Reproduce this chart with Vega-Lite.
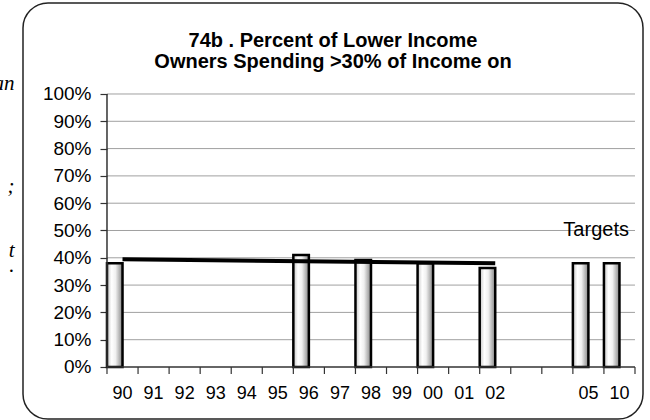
{
  "$schema": "https://vega.github.io/schema/vega-lite/v6.json",
  "width": 620,
  "height": 416,
  "autosize": {"type": "none"},
  "padding": {"left": 23, "top": 3, "right": 7, "bottom": 1},
  "background": "white",
  "config": {
    "view": {"stroke": "#222222", "strokeWidth": 1.5, "cornerRadius": 25},
    "font": "Liberation Sans"
  },
  "title": {
    "text": ["74b . Percent of Lower Income", "Owners Spending >30% of Income on"],
    "font": "Liberation Sans",
    "fontSize": 20,
    "fontWeight": "bold",
    "color": "black",
    "anchor": "middle",
    "frame": "group",
    "baseline": "top",
    "lineHeight": 21,
    "offset": -69
  },
  "datasets": {
    "bars": [
      {"year": "90", "pct": 38.0, "s": "a"},
      {"year": "96", "pct": 41.0, "s": "a"},
      {"year": "98", "pct": 39.2, "s": "a"},
      {"year": "00", "pct": 38.0, "s": "a"},
      {"year": "02", "pct": 36.3, "s": "a"},
      {"year": "05", "pct": 38.0, "s": "a"},
      {"year": "10", "pct": 38.0, "s": "a"}
    ],
    "trend": [
      {"year": "90", "pct": 39.45},
      {"year": "02", "pct": 38.0}
    ],
    "cats": [
      {"year": "90", "label": "90"}, {"year": "91", "label": "91"}, {"year": "92", "label": "92"},
      {"year": "93", "label": "93"}, {"year": "94", "label": "94"}, {"year": "95", "label": "95"},
      {"year": "96", "label": "96"}, {"year": "97", "label": "97"}, {"year": "98", "label": "98"},
      {"year": "99", "label": "99"}, {"year": "00", "label": "00"}, {"year": "01", "label": "01"},
      {"year": "02", "label": "02"}, {"year": "b1", "label": ""}, {"year": "b2", "label": ""},
      {"year": "05", "label": "05"}, {"year": "10", "label": "10"}
    ],
    "grid": [
      {"v": 10, "from": "90", "to": "10"},
      {"v": 20, "from": "90", "to": "10"},
      {"v": 30, "from": "90", "to": "10"},
      {"v": 40, "from": "90", "to": "10"},
      {"v": 50, "from": "90", "to": "10"},
      {"v": 60, "from": "90", "to": "10"},
      {"v": 70, "from": "90", "to": "10"},
      {"v": 80, "from": "90", "to": "10"},
      {"v": 90, "from": "90", "to": "10"},
      {"v": 100, "from": "90", "to": "10"}
    ],
    "base": [
      {"v": 0, "top": 100, "from": "90", "to": "10"}
    ],
    "notes": [
      {"label": "Targets", "year": "05", "pct": 50}
    ]
  },
  "resolve": {"axis": {"y": "independent"}},
  "layer": [
    {
      "data": {"name": "grid"},
      "mark": {"type": "rule", "color": "#a0a0a0", "strokeWidth": 1},
      "encoding": {
        "x": {"field": "from", "type": "nominal", "bandPosition": 0,
              "scale": {"type": "band", "domain": ["p1","p2","90","91","92","93","94","95","96","97","98","99","00","01","02","b1","b2","05","10"], "paddingInner": 0, "paddingOuter": 0.481, "align": 0.732},
              "axis": null},
        "x2": {"field": "to", "bandPosition": 1},
        "y": {"field": "v", "type": "quantitative",
              "scale": {"domain": [-19.05, 133.33], "nice": false, "zero": false},
              "axis": {
                "orient": "left", "offset": 6, "title": null,
                "values": [104, 66, 42.5, 37],
                "labelExpr": "datum.value > 100 ? 'an' : datum.value > 60 ? ';' : datum.value > 40 ? 't' : '.'",
                "ticks": false, "domain": false, "grid": false,
                "labelFont": "Liberation Serif", "labelFontStyle": "italic", "labelFontSize": 21,
                "labelColor": "black", "labelAlign": "right", "labelBaseline": "middle",
                "labelPadding": 3,
                "labelOverlap": false, "labelBound": false, "labelFlush": false
              }}
      }
    },
    {
      "data": {"name": "bars"},
      "mark": {"type": "bar", "stroke": "black", "strokeWidth": 2.5,
               "fill": {"gradient": "linear", "x1": 0, "x2": 1, "y1": 0, "y2": 0,
                        "stops": [{"offset": 0, "color": "#c4c4c4"}, {"offset": 0.3, "color": "#ffffff"}, {"offset": 0.55, "color": "#f0f0f0"}, {"offset": 1, "color": "#858585"}]}},
      "encoding": {
        "x": {"field": "year", "type": "nominal", "axis": null},
        "xOffset": {"field": "s", "type": "nominal", "scale": {"domain": ["a", "b"], "paddingInner": 0, "paddingOuter": 0}},
        "y": {"field": "pct", "type": "quantitative",
              "axis": {
                "orient": "left", "offset": -84, "title": null,
                "values": [0, 10, 20, 30, 40, 50, 60, 70, 80, 90, 100],
                "labelExpr": "datum.value + '%'",
                "tickSize": 7, "tickColor": "#333333", "tickWidth": 1.2,
                "domain": false, "grid": false,
                "labelFont": "Liberation Sans", "labelFontSize": 19, "labelColor": "black",
                "labelPadding": 9, "labelOverlap": false, "labelBound": false, "labelFlush": false
              }}
      }
    },
    {
      "data": {"name": "base"},
      "mark": {"type": "rule", "color": "#333333", "strokeWidth": 1.5},
      "encoding": {
        "x": {"field": "from", "type": "nominal", "bandPosition": 0, "axis": null},
        "x2": {"field": "to", "bandPosition": 1},
        "y": {"field": "v", "type": "quantitative", "axis": null}
      }
    },
    {
      "data": {"name": "base"},
      "mark": {"type": "rule", "color": "#333333", "strokeWidth": 1.5},
      "encoding": {
        "x": {"field": "from", "type": "nominal", "bandPosition": 0, "axis": null},
        "y": {"field": "v", "type": "quantitative", "axis": null},
        "y2": {"field": "top"}
      }
    },
    {
      "data": {"name": "cats"},
      "mark": {"type": "rule", "color": "#333333", "strokeWidth": 1.2},
      "encoding": {
        "x": {"field": "year", "type": "nominal", "bandPosition": 0, "axis": null},
        "y": {"datum": 0, "type": "quantitative", "axis": null},
        "y2": {"datum": -2.56}
      }
    },
    {
      "data": {"values": [{"year": "10"}]},
      "mark": {"type": "rule", "color": "#333333", "strokeWidth": 1.2},
      "encoding": {
        "x": {"field": "year", "type": "nominal", "bandPosition": 1, "axis": null},
        "y": {"datum": 0, "type": "quantitative", "axis": null},
        "y2": {"datum": -2.56}
      }
    },
    {
      "data": {"name": "cats"},
      "mark": {"type": "text", "font": "Liberation Sans", "fontSize": 18, "color": "black", "align": "center", "baseline": "middle"},
      "encoding": {
        "x": {"field": "year", "type": "nominal", "axis": null},
        "y": {"datum": -9.9, "type": "quantitative", "axis": null},
        "text": {"field": "label"}
      }
    },
    {
      "data": {"name": "trend"},
      "mark": {"type": "line", "color": "black", "strokeWidth": 4},
      "encoding": {
        "x": {"field": "year", "type": "nominal", "axis": null},
        "y": {"field": "pct", "type": "quantitative", "axis": null}
      }
    },
    {
      "data": {"name": "notes"},
      "mark": {"type": "text", "font": "Liberation Sans", "fontSize": 20, "color": "black", "align": "center", "baseline": "middle"},
      "encoding": {
        "x": {"field": "year", "type": "nominal", "bandPosition": 0.75, "axis": null},
        "y": {"field": "pct", "type": "quantitative", "axis": null},
        "text": {"field": "label"}
      }
    }
  ]
}
